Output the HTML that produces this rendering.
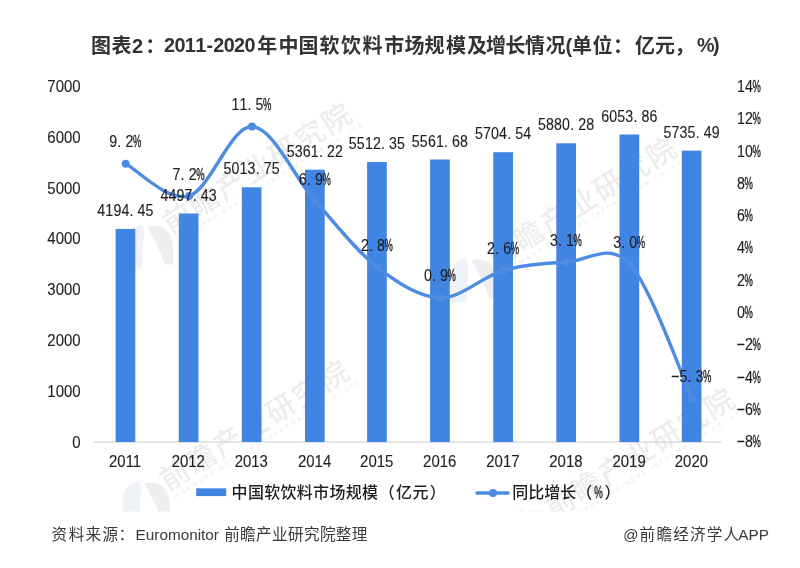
<!DOCTYPE html>
<html lang="zh-CN">
<head>
<meta charset="utf-8">
<title>图表2：2011-2020年中国软饮料市场规模及增长情况</title>
<style>
html,body{margin:0;padding:0;background:#fff;}
body{width:800px;height:568px;overflow:hidden;font-family:"Liberation Sans","Noto Sans CJK SC",sans-serif;}
svg{display:block;}
</style>
</head>
<body>
<svg width="800" height="568" viewBox="0 0 800 568" font-family="'Liberation Sans', 'Noto Sans CJK SC', sans-serif">
<rect width="800" height="568" fill="#fff"/>
<defs><clipPath id="wmclip"><rect x="0" y="0" width="800" height="511.5"/></clipPath></defs>
<g clip-path="url(#wmclip)">
<g transform="translate(171 234.5)" opacity="0.23"><path d="M-45 34 L-45 8 C-44 -3 -38 -9 -29 -10 L-27 -4 L-29 34 Z" fill="#bfc8e6"/><path d="M-24 -8 C-10 -12 1 -4 2 12 L2 30 L-6 30 L-14 10 Z" fill="#b9b9c6"/><g transform="rotate(-32)"><text x="0" y="0" font-size="29" font-weight="500" letter-spacing="2.2" fill="#b2b2b2">前瞻产业研究院</text><text x="4" y="10" font-size="6" font-weight="bold" letter-spacing="2.4" fill="#b8b8b8">FORWARD BUSINESS INFORMATION CO.,LTD</text></g></g>
<g transform="translate(168 491.5)" opacity="0.23"><path d="M-45 34 L-45 8 C-44 -3 -38 -9 -29 -10 L-27 -4 L-29 34 Z" fill="#bfc8e6"/><path d="M-24 -8 C-10 -12 1 -4 2 12 L2 30 L-6 30 L-14 10 Z" fill="#b9b9c6"/><g transform="rotate(-32)"><text x="0" y="0" font-size="29" font-weight="500" letter-spacing="2.2" fill="#b2b2b2">前瞻产业研究院</text><text x="4" y="10" font-size="6" font-weight="bold" letter-spacing="2.4" fill="#b8b8b8">FORWARD BUSINESS INFORMATION CO.,LTD</text></g></g>
<g transform="translate(495.5 268.5)" opacity="0.23"><path d="M-45 34 L-45 8 C-44 -3 -38 -9 -29 -10 L-27 -4 L-29 34 Z" fill="#bfc8e6"/><path d="M-24 -8 C-10 -12 1 -4 2 12 L2 30 L-6 30 L-14 10 Z" fill="#b9b9c6"/><g transform="rotate(-32)"><text x="0" y="0" font-size="29" font-weight="500" letter-spacing="2.2" fill="#b2b2b2">前瞻产业研究院</text><text x="4" y="10" font-size="6" font-weight="bold" letter-spacing="2.4" fill="#b8b8b8">FORWARD BUSINESS INFORMATION CO.,LTD</text></g></g>
<g transform="translate(553.5 519.5)" opacity="0.23"><path d="M-45 34 L-45 8 C-44 -3 -38 -9 -29 -10 L-27 -4 L-29 34 Z" fill="#bfc8e6"/><path d="M-24 -8 C-10 -12 1 -4 2 12 L2 30 L-6 30 L-14 10 Z" fill="#b9b9c6"/><g transform="rotate(-32)"><text x="0" y="0" font-size="29" font-weight="500" letter-spacing="2.2" fill="#b2b2b2">前瞻产业研究院</text><text x="4" y="10" font-size="6" font-weight="bold" letter-spacing="2.4" fill="#b8b8b8">FORWARD BUSINESS INFORMATION CO.,LTD</text></g></g>
</g>
<g font-weight="bold">
<text x="91.0 111.5" y="53.199999999999996" font-size="20" fill="#333333">图表</text>
<text x="132.0 145.2" y="53.199999999999996" font-size="20" fill="#333333">2：</text>
<text x="164.0 174.4 184.8 195.2 206.5 213.3 223.7 234.1 244.5" y="52.3" font-size="19.8" fill="#333333">2011-2020</text>
<text x="257.2 278.6 298.6 319.5 341.0 362.5 384.2" y="53.199999999999996" font-size="20" fill="#333333">年中国软饮料市</text>
<text x="404.5 424.4 446.0 467.0 486.0 505.6 525.0 545.6" y="53.199999999999996" font-size="20" fill="#333333">场规模及增长情况</text>
<text x="565.4 572.0 592.5 613.0 635.0 655.0 674.5" y="53.199999999999996" font-size="20" fill="#333333">(单位：亿元，</text>
<text x="697.0 713.0" y="52.3" font-size="19.8" fill="#333333">%)</text>
</g>
<rect x="94" y="441.5" width="627.5" height="1.1" fill="#d2d2d2"/>
<rect x="115.6" y="228.9" width="19.7" height="213.1" fill="#4085e1"/>
<rect x="178.8" y="213.5" width="19.7" height="228.5" fill="#4085e1"/>
<rect x="241.8" y="187.3" width="19.7" height="254.7" fill="#4085e1"/>
<rect x="305.0" y="169.7" width="19.7" height="272.3" fill="#4085e1"/>
<rect x="367.1" y="162.0" width="19.7" height="280.0" fill="#4085e1"/>
<rect x="430.1" y="159.5" width="19.7" height="282.5" fill="#4085e1"/>
<rect x="493.3" y="152.2" width="19.7" height="289.8" fill="#4085e1"/>
<rect x="556.3" y="143.3" width="19.7" height="298.7" fill="#4085e1"/>
<rect x="619.5" y="134.5" width="19.7" height="307.5" fill="#4085e1"/>
<rect x="681.8" y="150.6" width="19.7" height="291.4" fill="#4085e1"/>
<text transform="translate(80.6 447.5) scale(0.94 1)" text-anchor="end" font-size="15.9" fill="#1f1f1f" stroke="#1f1f1f" stroke-width="0.12">0</text>
<text transform="translate(80.6 396.7) scale(0.94 1)" text-anchor="end" font-size="15.9" fill="#1f1f1f" stroke="#1f1f1f" stroke-width="0.12">1000</text>
<text transform="translate(80.6 345.9) scale(0.94 1)" text-anchor="end" font-size="15.9" fill="#1f1f1f" stroke="#1f1f1f" stroke-width="0.12">2000</text>
<text transform="translate(80.6 295.1) scale(0.94 1)" text-anchor="end" font-size="15.9" fill="#1f1f1f" stroke="#1f1f1f" stroke-width="0.12">3000</text>
<text transform="translate(80.6 244.3) scale(0.94 1)" text-anchor="end" font-size="15.9" fill="#1f1f1f" stroke="#1f1f1f" stroke-width="0.12">4000</text>
<text transform="translate(80.6 193.5) scale(0.94 1)" text-anchor="end" font-size="15.9" fill="#1f1f1f" stroke="#1f1f1f" stroke-width="0.12">5000</text>
<text transform="translate(80.6 142.7) scale(0.94 1)" text-anchor="end" font-size="15.9" fill="#1f1f1f" stroke="#1f1f1f" stroke-width="0.12">6000</text>
<text transform="translate(80.6 91.9) scale(0.94 1)" text-anchor="end" font-size="15.9" fill="#1f1f1f" stroke="#1f1f1f" stroke-width="0.12">7000</text>
<g transform="translate(737.0 447.4)" font-size="15.6" fill="#1f1f1f" stroke="#1f1f1f" stroke-width="0.12"><text transform="translate(-0.8 -1.2) scale(1.75 1)" stroke-width="0.2">-</text><text transform="scale(0.91 1)" x="8.8" y="0">8</text><text transform="translate(15.5 0) scale(0.6 1)" stroke-width="0.4">%</text></g>
<g transform="translate(737.0 415.1)" font-size="15.6" fill="#1f1f1f" stroke="#1f1f1f" stroke-width="0.12"><text transform="translate(-0.8 -1.2) scale(1.75 1)" stroke-width="0.2">-</text><text transform="scale(0.91 1)" x="8.8" y="0">6</text><text transform="translate(15.5 0) scale(0.6 1)" stroke-width="0.4">%</text></g>
<g transform="translate(737.0 382.7)" font-size="15.6" fill="#1f1f1f" stroke="#1f1f1f" stroke-width="0.12"><text transform="translate(-0.8 -1.2) scale(1.75 1)" stroke-width="0.2">-</text><text transform="scale(0.91 1)" x="8.8" y="0">4</text><text transform="translate(15.5 0) scale(0.6 1)" stroke-width="0.4">%</text></g>
<g transform="translate(737.0 350.4)" font-size="15.6" fill="#1f1f1f" stroke="#1f1f1f" stroke-width="0.12"><text transform="translate(-0.8 -1.2) scale(1.75 1)" stroke-width="0.2">-</text><text transform="scale(0.91 1)" x="8.8" y="0">2</text><text transform="translate(15.5 0) scale(0.6 1)" stroke-width="0.4">%</text></g>
<g transform="translate(737.0 318.1)" font-size="15.6" fill="#1f1f1f" stroke="#1f1f1f" stroke-width="0.12"><text transform="scale(0.91 1)" x="0.0" y="0">0</text><text transform="translate(7.5 0) scale(0.6 1)" stroke-width="0.4">%</text></g>
<g transform="translate(737.0 285.8)" font-size="15.6" fill="#1f1f1f" stroke="#1f1f1f" stroke-width="0.12"><text transform="scale(0.91 1)" x="0.0" y="0">2</text><text transform="translate(7.5 0) scale(0.6 1)" stroke-width="0.4">%</text></g>
<g transform="translate(737.0 253.4)" font-size="15.6" fill="#1f1f1f" stroke="#1f1f1f" stroke-width="0.12"><text transform="scale(0.91 1)" x="0.0" y="0">4</text><text transform="translate(7.5 0) scale(0.6 1)" stroke-width="0.4">%</text></g>
<g transform="translate(737.0 221.1)" font-size="15.6" fill="#1f1f1f" stroke="#1f1f1f" stroke-width="0.12"><text transform="scale(0.91 1)" x="0.0" y="0">6</text><text transform="translate(7.5 0) scale(0.6 1)" stroke-width="0.4">%</text></g>
<g transform="translate(737.0 188.8)" font-size="15.6" fill="#1f1f1f" stroke="#1f1f1f" stroke-width="0.12"><text transform="scale(0.91 1)" x="0.0" y="0">8</text><text transform="translate(7.5 0) scale(0.6 1)" stroke-width="0.4">%</text></g>
<g transform="translate(737.0 156.5)" font-size="15.6" fill="#1f1f1f" stroke="#1f1f1f" stroke-width="0.12"><text transform="scale(0.91 1)" x="0.0 8.8" y="0">10</text><text transform="translate(15.5 0) scale(0.6 1)" stroke-width="0.4">%</text></g>
<g transform="translate(737.0 124.1)" font-size="15.6" fill="#1f1f1f" stroke="#1f1f1f" stroke-width="0.12"><text transform="scale(0.91 1)" x="0.0 8.8" y="0">12</text><text transform="translate(15.5 0) scale(0.6 1)" stroke-width="0.4">%</text></g>
<g transform="translate(737.0 91.8)" font-size="15.6" fill="#1f1f1f" stroke="#1f1f1f" stroke-width="0.12"><text transform="scale(0.91 1)" x="0.0 8.8" y="0">14</text><text transform="translate(15.5 0) scale(0.6 1)" stroke-width="0.4">%</text></g>
<text transform="translate(125.1 466.6) scale(0.94 1)" text-anchor="middle" font-size="15.9" fill="#1f1f1f" stroke="#1f1f1f" stroke-width="0.12">2011</text>
<text transform="translate(188.3 466.6) scale(0.94 1)" text-anchor="middle" font-size="15.9" fill="#1f1f1f" stroke="#1f1f1f" stroke-width="0.12">2012</text>
<text transform="translate(251.3 466.6) scale(0.94 1)" text-anchor="middle" font-size="15.9" fill="#1f1f1f" stroke="#1f1f1f" stroke-width="0.12">2013</text>
<text transform="translate(314.6 466.6) scale(0.94 1)" text-anchor="middle" font-size="15.9" fill="#1f1f1f" stroke="#1f1f1f" stroke-width="0.12">2014</text>
<text transform="translate(376.7 466.6) scale(0.94 1)" text-anchor="middle" font-size="15.9" fill="#1f1f1f" stroke="#1f1f1f" stroke-width="0.12">2015</text>
<text transform="translate(439.7 466.6) scale(0.94 1)" text-anchor="middle" font-size="15.9" fill="#1f1f1f" stroke="#1f1f1f" stroke-width="0.12">2016</text>
<text transform="translate(502.9 466.6) scale(0.94 1)" text-anchor="middle" font-size="15.9" fill="#1f1f1f" stroke="#1f1f1f" stroke-width="0.12">2017</text>
<text transform="translate(565.9 466.6) scale(0.94 1)" text-anchor="middle" font-size="15.9" fill="#1f1f1f" stroke="#1f1f1f" stroke-width="0.12">2018</text>
<text transform="translate(629.1 466.6) scale(0.94 1)" text-anchor="middle" font-size="15.9" fill="#1f1f1f" stroke="#1f1f1f" stroke-width="0.12">2019</text>
<text transform="translate(691.4 466.6) scale(0.94 1)" text-anchor="middle" font-size="15.9" fill="#1f1f1f" stroke="#1f1f1f" stroke-width="0.12">2020</text>
<path d="M125.75 163.69 C136.28 169.07 167.92 202.21 188.95 196.01 C209.98 189.82 230.92 125.70 251.95 126.51 C272.98 127.32 294.27 177.42 315.15 200.86 C336.03 224.30 356.40 250.97 377.25 267.13 C398.10 283.30 419.22 297.30 440.25 297.84 C461.28 298.38 482.42 276.29 503.45 270.37 C524.48 264.44 545.42 263.36 566.45 262.28 C587.48 261.21 608.73 241.27 629.65 263.90 C650.57 286.53 681.57 375.70 691.95 398.06" fill="none" stroke="#4e8ce3" stroke-width="3.4" stroke-linecap="round" stroke-linejoin="round"/>
<circle cx="125.7" cy="163.7" r="4" fill="#4e8ce3"/>
<circle cx="189.0" cy="196.0" r="4" fill="#4e8ce3"/>
<circle cx="252.0" cy="126.5" r="4" fill="#4e8ce3"/>
<circle cx="315.2" cy="200.9" r="4" fill="#4e8ce3"/>
<circle cx="377.3" cy="267.1" r="4" fill="#4e8ce3"/>
<circle cx="440.3" cy="297.8" r="4" fill="#4e8ce3"/>
<circle cx="503.5" cy="270.4" r="4" fill="#4e8ce3"/>
<circle cx="566.4" cy="262.3" r="4" fill="#4e8ce3"/>
<circle cx="629.6" cy="263.9" r="4" fill="#4e8ce3"/>
<circle cx="691.9" cy="398.1" r="4" fill="#4e8ce3"/>
<g transform="translate(97.3 216.0)" font-size="15.6" fill="#1f1f1f" stroke="#1f1f1f" stroke-width="0.12"><text transform="scale(0.91 1)" x="0.0 8.8 17.7 26.5 35.4 44.2 53.1" y="0">4194.45</text></g>
<g transform="translate(160.5 200.6)" font-size="15.6" fill="#1f1f1f" stroke="#1f1f1f" stroke-width="0.12"><text transform="scale(0.91 1)" x="0.0 8.8 17.7 26.5 35.4 44.2 53.1" y="0">4497.43</text></g>
<g transform="translate(223.5 174.4)" font-size="15.6" fill="#1f1f1f" stroke="#1f1f1f" stroke-width="0.12"><text transform="scale(0.91 1)" x="0.0 8.8 17.7 26.5 35.4 44.2 53.1" y="0">5013.75</text></g>
<g transform="translate(286.7 156.8)" font-size="15.6" fill="#1f1f1f" stroke="#1f1f1f" stroke-width="0.12"><text transform="scale(0.91 1)" x="0.0 8.8 17.7 26.5 35.4 44.2 53.1" y="0">5361.22</text></g>
<g transform="translate(348.8 149.1)" font-size="15.6" fill="#1f1f1f" stroke="#1f1f1f" stroke-width="0.12"><text transform="scale(0.91 1)" x="0.0 8.8 17.7 26.5 35.4 44.2 53.1" y="0">5512.35</text></g>
<g transform="translate(411.8 146.6)" font-size="15.6" fill="#1f1f1f" stroke="#1f1f1f" stroke-width="0.12"><text transform="scale(0.91 1)" x="0.0 8.8 17.7 26.5 35.4 44.2 53.1" y="0">5561.68</text></g>
<g transform="translate(475.0 139.3)" font-size="15.6" fill="#1f1f1f" stroke="#1f1f1f" stroke-width="0.12"><text transform="scale(0.91 1)" x="0.0 8.8 17.7 26.5 35.4 44.2 53.1" y="0">5704.54</text></g>
<g transform="translate(538.0 130.4)" font-size="15.6" fill="#1f1f1f" stroke="#1f1f1f" stroke-width="0.12"><text transform="scale(0.91 1)" x="0.0 8.8 17.7 26.5 35.4 44.2 53.1" y="0">5880.28</text></g>
<g transform="translate(601.2 121.6)" font-size="15.6" fill="#1f1f1f" stroke="#1f1f1f" stroke-width="0.12"><text transform="scale(0.91 1)" x="0.0 8.8 17.7 26.5 35.4 44.2 53.1" y="0">6053.86</text></g>
<g transform="translate(663.5 137.7)" font-size="15.6" fill="#1f1f1f" stroke="#1f1f1f" stroke-width="0.12"><text transform="scale(0.91 1)" x="0.0 8.8 17.7 26.5 35.4 44.2 53.1" y="0">5735.49</text></g>
<g transform="translate(109.3 147.3)" font-size="15.6" fill="#1f1f1f" stroke="#1f1f1f" stroke-width="0.12"><text transform="scale(0.91 1)" x="0.0 8.8 17.7" y="0">9.2</text><text transform="translate(23.6 0) scale(0.6 1)" stroke-width="0.4">%</text></g>
<g transform="translate(172.6 179.6)" font-size="15.6" fill="#1f1f1f" stroke="#1f1f1f" stroke-width="0.12"><text transform="scale(0.91 1)" x="0.0 8.8 17.7" y="0">7.2</text><text transform="translate(23.6 0) scale(0.6 1)" stroke-width="0.4">%</text></g>
<g transform="translate(231.5 110.1)" font-size="15.6" fill="#1f1f1f" stroke="#1f1f1f" stroke-width="0.12"><text transform="scale(0.91 1)" x="0.0 8.8 17.7 26.5" y="0">11.5</text><text transform="translate(31.6 0) scale(0.6 1)" stroke-width="0.4">%</text></g>
<g transform="translate(298.8 184.5)" font-size="15.6" fill="#1f1f1f" stroke="#1f1f1f" stroke-width="0.12"><text transform="scale(0.91 1)" x="0.0 8.8 17.7" y="0">6.9</text><text transform="translate(23.6 0) scale(0.6 1)" stroke-width="0.4">%</text></g>
<g transform="translate(360.9 250.7)" font-size="15.6" fill="#1f1f1f" stroke="#1f1f1f" stroke-width="0.12"><text transform="scale(0.91 1)" x="0.0 8.8 17.7" y="0">2.8</text><text transform="translate(23.6 0) scale(0.6 1)" stroke-width="0.4">%</text></g>
<g transform="translate(423.9 281.4)" font-size="15.6" fill="#1f1f1f" stroke="#1f1f1f" stroke-width="0.12"><text transform="scale(0.91 1)" x="0.0 8.8 17.7" y="0">0.9</text><text transform="translate(23.6 0) scale(0.6 1)" stroke-width="0.4">%</text></g>
<g transform="translate(487.1 254.0)" font-size="15.6" fill="#1f1f1f" stroke="#1f1f1f" stroke-width="0.12"><text transform="scale(0.91 1)" x="0.0 8.8 17.7" y="0">2.6</text><text transform="translate(23.6 0) scale(0.6 1)" stroke-width="0.4">%</text></g>
<g transform="translate(550.0 245.9)" font-size="15.6" fill="#1f1f1f" stroke="#1f1f1f" stroke-width="0.12"><text transform="scale(0.91 1)" x="0.0 8.8 17.7" y="0">3.1</text><text transform="translate(23.6 0) scale(0.6 1)" stroke-width="0.4">%</text></g>
<g transform="translate(613.2 247.5)" font-size="15.6" fill="#1f1f1f" stroke="#1f1f1f" stroke-width="0.12"><text transform="scale(0.91 1)" x="0.0 8.8 17.7" y="0">3.0</text><text transform="translate(23.6 0) scale(0.6 1)" stroke-width="0.4">%</text></g>
<g transform="translate(671.5 382.3)" font-size="15.6" fill="#1f1f1f" stroke="#1f1f1f" stroke-width="0.12"><text transform="translate(-0.8 -1.2) scale(1.75 1)" stroke-width="0.2">-</text><text transform="scale(0.91 1)" x="8.8 17.7 26.5" y="0">5.3</text><text transform="translate(31.6 0) scale(0.6 1)" stroke-width="0.4">%</text></g>
<rect x="196.2" y="488.3" width="30" height="7.8" fill="#4085e1"/>
<text x="231.6 247.9 264.2 280.5 296.8 313.1 329.4 345.7 362.0 378.8 395.9 412.6 429.8" y="498.3" font-size="16" fill="#1f1f1f" font-weight="500">中国软饮料市场规模（亿元）</text>
<path d="M477 493H508" stroke="#4e8ce3" stroke-width="3.4" stroke-linecap="round"/>
<circle cx="493" cy="493" r="4" fill="#4e8ce3"/>
<text x="512.3" y="498.3" font-size="16" font-weight="500" fill="#1f1f1f">同比增长（</text>
<text transform="translate(594.3 498.3) scale(0.6 1)" font-size="16" fill="#1f1f1f" stroke="#1f1f1f" stroke-width="0.4">%</text>
<text x="604.6" y="498.3" font-size="16" font-weight="500" fill="#1f1f1f">）</text>
<text x="51.5 68.7 85.6 102.5 118.5" y="539.9" font-size="15.6" fill="#3a3a3a">资料来源：</text>
<text x="135.6" y="539.9" font-size="15.3" fill="#3a3a3a">Euromonitor</text>
<text x="224.2 240.1 256.1 272.0 288.0 303.9 319.9 335.8 351.8" y="539.9" font-size="15.6" fill="#3a3a3a">前瞻产业研究院整理</text>
<text x="623.3" y="539.6" font-size="15" fill="#3a3a3a">@</text>
<text x="639.6 656.4 673.2 690.0 706.8 723.6" y="539.9" font-size="15.6" fill="#3a3a3a">前瞻经济学人</text>
<text x="738.3" y="539.9" font-size="15.4" fill="#3a3a3a">APP</text>
</svg>
</body>
</html>
